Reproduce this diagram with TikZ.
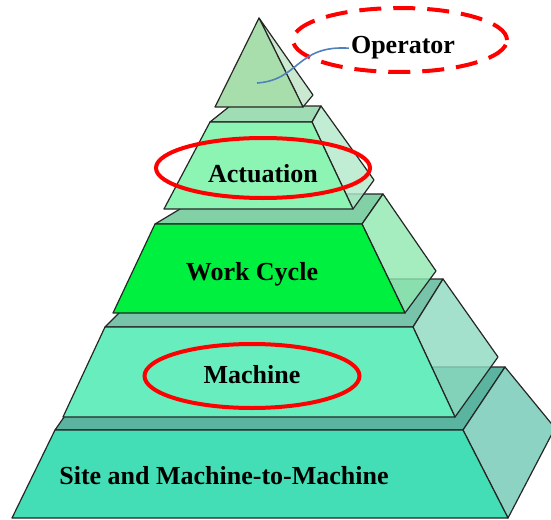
\documentclass[tikz,border=0pt]{standalone}
\usepackage{fontspec}
\usetikzlibrary{shapes.geometric}
\setmainfont{Liberation Serif}
\definecolor{opfront}{RGB}{168,222,172}
\definecolor{opside}{RGB}{190,228,196}
\definecolor{actstrip}{RGB}{160,220,180}
\definecolor{actfront}{RGB}{140,245,180}
\definecolor{actside}{RGB}{176,232,200}
\definecolor{wcstrip}{RGB}{130,208,165}
\definecolor{wcfront}{RGB}{0,240,64}
\definecolor{wcside}{RGB}{142,232,175}
\definecolor{mstrip}{RGB}{120,196,170}
\definecolor{mfront}{RGB}{104,238,190}
\definecolor{mside}{RGB}{140,218,192}
\definecolor{bstrip}{RGB}{90,180,160}
\definecolor{bfront}{RGB}{68,222,182}
\definecolor{bside}{RGB}{112,200,180}
\definecolor{hired}{RGB}{255,0,0}
\definecolor{linkblue}{RGB}{79,129,189}
\tikzset{
  face/.style={draw=black!85, line width=1.2pt, line join=round},
  sideface/.style={face, fill opacity=0.8},
  label/.style={font=\bfseries\fontsize{26}{30}\selectfont, anchor=base, inner sep=0pt},
  ring/.style={draw=hired, line width=4pt},
  dashring/.style={ring, dash pattern=on 22pt off 12pt},
}
\begin{document}
\begin{tikzpicture}[x=1pt,y=-1pt]
\useasboundingbox (0,0) rectangle (551,519);
% ---- base layer
\coordinate (bTL) at (55,430); \coordinate (bTR) at (463,430);
\coordinate (bBR) at (508,518); \coordinate (bBL) at (12,518);
\coordinate (bKTR) at (505,367); \coordinate (bKTL) at (99,367);
\coordinate (bKBR) at (555,428);
\draw[face, fill=bstrip] (bTL) -- (bTR) -- (bKTR) -- (bKTL) -- cycle;
\draw[sideface, fill=bside] (bTR) -- (bKTR) -- (bKBR) -- (bBR) -- cycle;
\draw[face, fill=bfront] (bTL) -- (bTR) -- (bBR) -- (bBL) -- cycle;
% ---- machine layer
\coordinate (mTL) at (105,327); \coordinate (mTR) at (413,327);
\coordinate (mBR) at (455,417); \coordinate (mBL) at (63,417);
\coordinate (mKTR) at (443,279); \coordinate (mKTL) at (153,279);
\coordinate (mKBR) at (498,357);
\draw[face, fill=mstrip] (mTL) -- (mTR) -- (mKTR) -- (mKTL) -- cycle;
\draw[sideface, fill=mside] (mTR) -- (mKTR) -- (mKBR) -- (mBR) -- cycle;
\draw[face, fill=mfront] (mTL) -- (mTR) -- (mBR) -- (mBL) -- cycle;
% ---- work cycle layer
\coordinate (wTL) at (155,224); \coordinate (wTR) at (362,224);
\coordinate (wBR) at (405,313); \coordinate (wBL) at (113,313);
\coordinate (wKTR) at (383,194); \coordinate (wKTL) at (205,194);
\coordinate (wKBR) at (436,271);
\draw[face, fill=wcstrip] (wTL) -- (wTR) -- (wKTR) -- (wKTL) -- cycle;
\draw[sideface, fill=wcside] (wTR) -- (wKTR) -- (wKBR) -- (wBR) -- cycle;
\draw[face, fill=wcfront] (wTL) -- (wTR) -- (wBR) -- (wBL) -- cycle;
% ---- actuation layer
\coordinate (aTL) at (210,122); \coordinate (aTR) at (312,122);
\coordinate (aBR) at (353,209); \coordinate (aBL) at (164,209);
\coordinate (aKTR) at (321,106); \coordinate (aKTL) at (230,106);
\coordinate (aKBR) at (374,180);
\draw[face, fill=actstrip] (aTL) -- (aTR) -- (aKTR) -- (aKTL) -- cycle;
\draw[sideface, fill=actside] (aTR) -- (aKTR) -- (aKBR) -- (aBR) -- cycle;
\draw[face, fill=actfront] (aTL) -- (aTR) -- (aBR) -- (aBL) -- cycle;
% ---- operator (apex)
\coordinate (oA) at (259,18); \coordinate (oL) at (215,107);
\coordinate (oR) at (303,107); \coordinate (oK) at (313,95);
\draw[sideface, fill=opside] (oA) -- (oK) -- (oR) -- cycle;
\draw[face, fill=opfront] (oA) -- (oR) -- (oL) -- cycle;
% ---- labels
\node[label] (op) at (403,53) {Operator};
\node[label] (act) at (263,182) {Actuation};
\node[label] (wc) at (252,280) {Work Cycle};
\node[label] (mach) at (252,383) {Machine};
\node[label] (site) at (224,484) {Site and Machine-to-Machine};
% ---- red rings
\node[dashring, ellipse, minimum width=214pt, minimum height=64pt, inner sep=0pt] (opring) at (400,40) {};
\node[ring, ellipse, minimum width=214pt, minimum height=60pt, inner sep=0pt] (actring) at (263,168) {};
\node[ring, ellipse, minimum width=215pt, minimum height=64pt, inner sep=0pt] (mring) at (252,376) {};
% ---- blue connector
\coordinate (optip) at (257,83);
\draw[linkblue, line width=1.6pt] (optip) .. controls (300,80) and (296,45) .. ([xshift=-2pt,yshift=-1pt]op.west);
\end{tikzpicture}
\end{document}
